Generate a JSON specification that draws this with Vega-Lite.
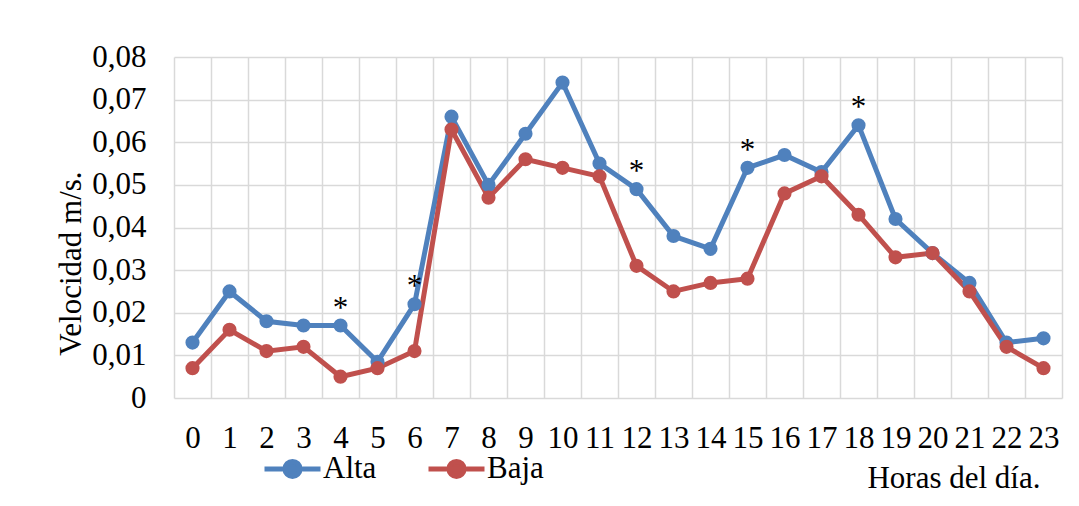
{
  "$schema": "https://vega.github.io/schema/vega-lite/v6.json",
  "width": 888,
  "height": 341,
  "autosize": "none",
  "padding": {"left": 174, "top": 57, "right": 17, "bottom": 108},
  "background": "white",
  "config": {
    "view": {"stroke": null},
    "font": "Liberation Serif",
    "axis": {
      "labelFont": "Liberation Serif",
      "titleFont": "Liberation Serif",
      "labelFontSize": 31,
      "titleFontSize": 31,
      "titleFontWeight": "normal",
      "labelColor": "black",
      "titleColor": "black",
      "gridColor": "#d9d9d9",
      "gridWidth": 1.5,
      "gridOpacity": 1,
      "domain": false,
      "ticks": false,
      "tickSize": 0
    }
  },
  "data": {
    "values": [
      {"hora": 0, "serie": "Alta", "v": 0.013, "sig": ""},
      {"hora": 1, "serie": "Alta", "v": 0.025, "sig": ""},
      {"hora": 2, "serie": "Alta", "v": 0.018, "sig": ""},
      {"hora": 3, "serie": "Alta", "v": 0.017, "sig": ""},
      {"hora": 4, "serie": "Alta", "v": 0.017, "sig": "*"},
      {"hora": 5, "serie": "Alta", "v": 0.0085, "sig": ""},
      {"hora": 6, "serie": "Alta", "v": 0.022, "sig": "*"},
      {"hora": 7, "serie": "Alta", "v": 0.066, "sig": ""},
      {"hora": 8, "serie": "Alta", "v": 0.05, "sig": ""},
      {"hora": 9, "serie": "Alta", "v": 0.062, "sig": ""},
      {"hora": 10, "serie": "Alta", "v": 0.074, "sig": ""},
      {"hora": 11, "serie": "Alta", "v": 0.055, "sig": ""},
      {"hora": 12, "serie": "Alta", "v": 0.049, "sig": "*"},
      {"hora": 13, "serie": "Alta", "v": 0.038, "sig": ""},
      {"hora": 14, "serie": "Alta", "v": 0.035, "sig": ""},
      {"hora": 15, "serie": "Alta", "v": 0.054, "sig": "*"},
      {"hora": 16, "serie": "Alta", "v": 0.057, "sig": ""},
      {"hora": 17, "serie": "Alta", "v": 0.053, "sig": ""},
      {"hora": 18, "serie": "Alta", "v": 0.064, "sig": "*"},
      {"hora": 19, "serie": "Alta", "v": 0.042, "sig": ""},
      {"hora": 20, "serie": "Alta", "v": 0.034, "sig": ""},
      {"hora": 21, "serie": "Alta", "v": 0.027, "sig": ""},
      {"hora": 22, "serie": "Alta", "v": 0.013, "sig": ""},
      {"hora": 23, "serie": "Alta", "v": 0.014, "sig": ""},
      {"hora": 0, "serie": "Baja", "v": 0.007, "sig": ""},
      {"hora": 1, "serie": "Baja", "v": 0.016, "sig": ""},
      {"hora": 2, "serie": "Baja", "v": 0.011, "sig": ""},
      {"hora": 3, "serie": "Baja", "v": 0.012, "sig": ""},
      {"hora": 4, "serie": "Baja", "v": 0.005, "sig": ""},
      {"hora": 5, "serie": "Baja", "v": 0.007, "sig": ""},
      {"hora": 6, "serie": "Baja", "v": 0.011, "sig": ""},
      {"hora": 7, "serie": "Baja", "v": 0.063, "sig": ""},
      {"hora": 8, "serie": "Baja", "v": 0.047, "sig": ""},
      {"hora": 9, "serie": "Baja", "v": 0.056, "sig": ""},
      {"hora": 10, "serie": "Baja", "v": 0.054, "sig": ""},
      {"hora": 11, "serie": "Baja", "v": 0.052, "sig": ""},
      {"hora": 12, "serie": "Baja", "v": 0.031, "sig": ""},
      {"hora": 13, "serie": "Baja", "v": 0.025, "sig": ""},
      {"hora": 14, "serie": "Baja", "v": 0.027, "sig": ""},
      {"hora": 15, "serie": "Baja", "v": 0.028, "sig": ""},
      {"hora": 16, "serie": "Baja", "v": 0.048, "sig": ""},
      {"hora": 17, "serie": "Baja", "v": 0.052, "sig": ""},
      {"hora": 18, "serie": "Baja", "v": 0.043, "sig": ""},
      {"hora": 19, "serie": "Baja", "v": 0.033, "sig": ""},
      {"hora": 20, "serie": "Baja", "v": 0.034, "sig": ""},
      {"hora": 21, "serie": "Baja", "v": 0.025, "sig": ""},
      {"hora": 22, "serie": "Baja", "v": 0.012, "sig": ""},
      {"hora": 23, "serie": "Baja", "v": 0.007, "sig": ""}
    ]
  },
  "encoding": {
    "x": {
      "field": "hora",
      "type": "ordinal",
      "bandPosition": 0.5,
      "scale": {"type": "band", "paddingInner": 0, "paddingOuter": 0},
      "axis": {
        "title": "Horas del día.",
        "labelAngle": 0,
        "labelPadding": 25,
        "grid": true,
        "tickBand": "extent",
        "titleX": 866,
        "titleY": 89,
        "titleAlign": "right",
        "titleAnchor": null,
        "titleBaseline": "alphabetic"
      }
    },
    "y": {
      "field": "v",
      "type": "quantitative",
      "scale": {"domain": [0, 0.08], "nice": false},
      "axis": {
        "title": "Velocidad m/s.",
        "values": [0, 0.01, 0.02, 0.03, 0.04, 0.05, 0.06, 0.07, 0.08],
        "labelExpr": "datum.value == 0 ? '0' : replace(format(datum.value, '.2f'), '.', ',')",
        "labelPadding": 28,
        "grid": true,
        "titleX": -103,
        "titleY": 206,
        "titleAngle": -90,
        "titleAlign": "center",
        "titleBaseline": "middle"
      }
    },
    "color": {
      "field": "serie",
      "type": "nominal",
      "scale": {"domain": ["Alta", "Baja"], "range": ["#4f81bd", "#c0504d"]},
      "legend": {
        "orient": "none",
        "legendX": 88,
        "legendY": 381,
        "direction": "horizontal",
        "title": null,
        "padding": 0,
        "symbolType": "M-1,0L1,0M0.27,0A0.27,0.27,0,1,1,-0.27,0A0.27,0.27,0,1,1,0.27,0",
        "symbolSize": 3136,
        "symbolStrokeWidth": 5,
        "labelFont": "Liberation Serif",
        "labelFontSize": 31,
        "labelColor": "black",
        "labelOffset": 0,
        "columnPadding": 41,
        "labelLimit": 200,
        "encode": {
          "symbols": {
            "update": {
              "fill": {"scale": "color", "field": "value"},
              "stroke": {"scale": "color", "field": "value"},
              "strokeWidth": {"value": 5},
              "opacity": {"value": 1}
            }
          }
        }
      }
    }
  },
  "layer": [
    {
      "mark": {"type": "line", "strokeWidth": 5}
    },
    {
      "mark": {"type": "point", "filled": true, "size": 200, "opacity": 1}
    },
    {
      "transform": [{"filter": "datum.sig == '*'"}],
      "mark": {"type": "text", "fontSize": 31, "font": "Liberation Serif", "baseline": "middle", "dy": -17},
      "encoding": {"text": {"field": "sig"}, "color": {"value": "black"}}
    }
  ]
}
